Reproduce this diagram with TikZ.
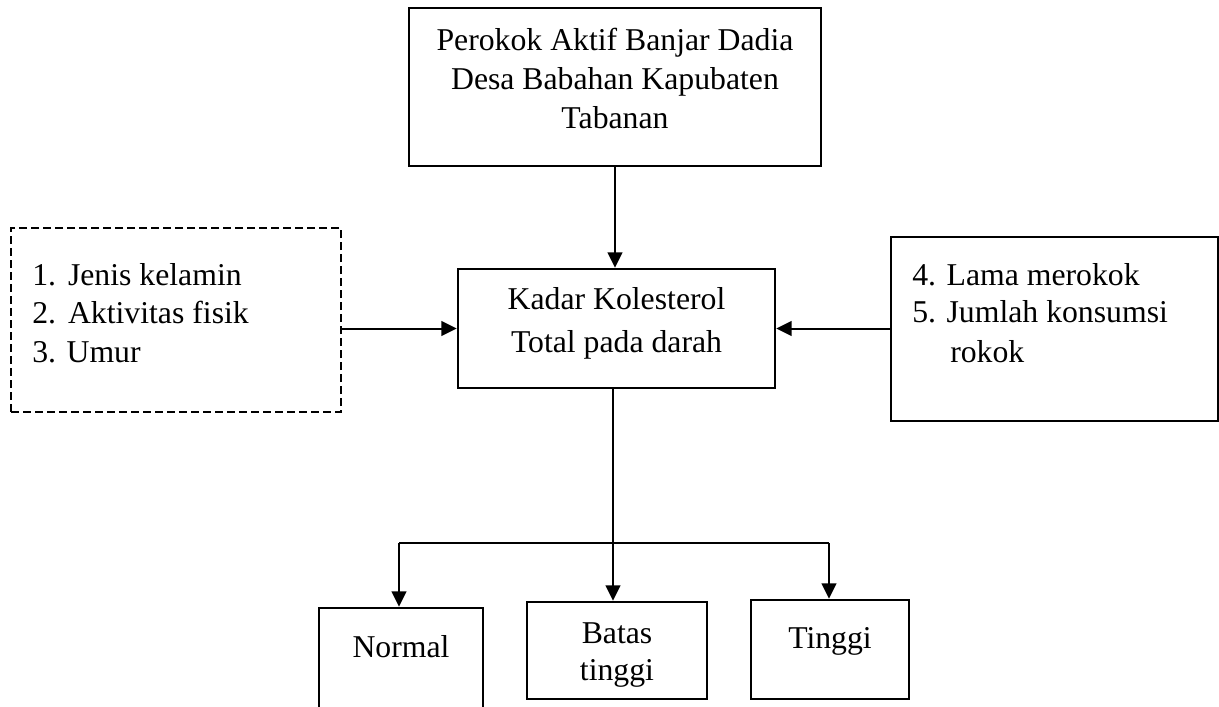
\documentclass[tikz,border=0pt]{standalone}
\usepackage{fontspec}
\setmainfont{Liberation Serif}
\usetikzlibrary{arrows.meta}
\begin{document}
\begin{tikzpicture}[x=0.75pt,y=-0.75pt,
  boxstyle/.style={draw=black,line width=1.9pt,inner sep=0pt,rectangle},
  dashbox/.style={boxstyle,line width=1.7pt,dash pattern=on 6pt off 3pt},
  txt/.style={inner sep=0pt,anchor=base,font=\fontsize{23.8pt}{28pt}\selectfont},
  txtl/.style={txt,anchor=base west},
  arr/.style={line width=1.5pt,-{Triangle[length=11.5pt,width=11pt]}},
  conn/.style={line width=1.5pt}]
\useasboundingbox (0,0) rectangle (1219,706);
\clip (0,0) rectangle (1219,706);
\fill[white] (0,0) rectangle (1219,706);
% boxes
\node[boxstyle,minimum width=309pt,minimum height=118.5pt] (top) at (615,87) {};
\node[boxstyle,minimum width=237.75pt,minimum height=89.25pt] (central) at (616.5,328.5) {};
\node[dashbox,minimum width=247.5pt,minimum height=138pt] (left) at (176,320) {};
\node[boxstyle,minimum width=245.25pt,minimum height=138pt] (right) at (1054.5,329) {};
\node[boxstyle,minimum width=123pt,minimum height=91.5pt] (normal) at (401,669) {};
\node[boxstyle,minimum width=135pt,minimum height=72.75pt] (batas) at (617,650.5) {};
\node[boxstyle,minimum width=118.5pt,minimum height=74.25pt] (tinggi) at (830,649.5) {};
% texts
\node[txt] (t1) at (615,51) {Perokok Aktif Banjar Dadia};
\node[txt] (t2) at (615,90) {Desa Babahan Kapubaten};
\node[txt] (t3) at (615,128) {Tabanan};
\node[txt] (c1) at (616.5,309) {Kadar Kolesterol};
\node[txt] (c2) at (616.5,352) {Total pada darah};
\node[txtl] (l1) at (32,285) {1.\hspace{9pt}Jenis kelamin};
\node[txtl] (l2) at (32,323) {2.\hspace{9pt}Aktivitas fisik};
\node[txtl] (l3) at (32,362) {3. Umur};
\node[txtl] (r1) at (912,285) {4. Lama merokok};
\node[txtl] (r2) at (912,322) {5. Jumlah konsumsi};
\node[txtl] (r3) at (950,362) {rokok};
\node[txt] (n1) at (401,657) {Normal};
\node[txt] (b1) at (617,643) {Batas};
\node[txt] (b2) at (617,680) {tinggi};
\node[txt] (g1) at (830,648) {Tinggi};
% connectors
\coordinate (bl) at (399,543);
\coordinate (bm) at (613,543);
\coordinate (br) at (829,543);
\draw[arr] (top.south) -- (top.south |- central.north);
\draw[arr] (left.east |- central.west) -- (central.west);
\draw[arr] (right.west |- central.east) -- (central.east);
\draw[arr] (bm |- central.south) -- (bm |- batas.north);
\draw[conn] (bl) -- (br);
\draw[arr] (bl) -- (bl |- normal.north);
\draw[arr] (br) -- (br |- tinggi.north);
\end{tikzpicture}
\end{document}
